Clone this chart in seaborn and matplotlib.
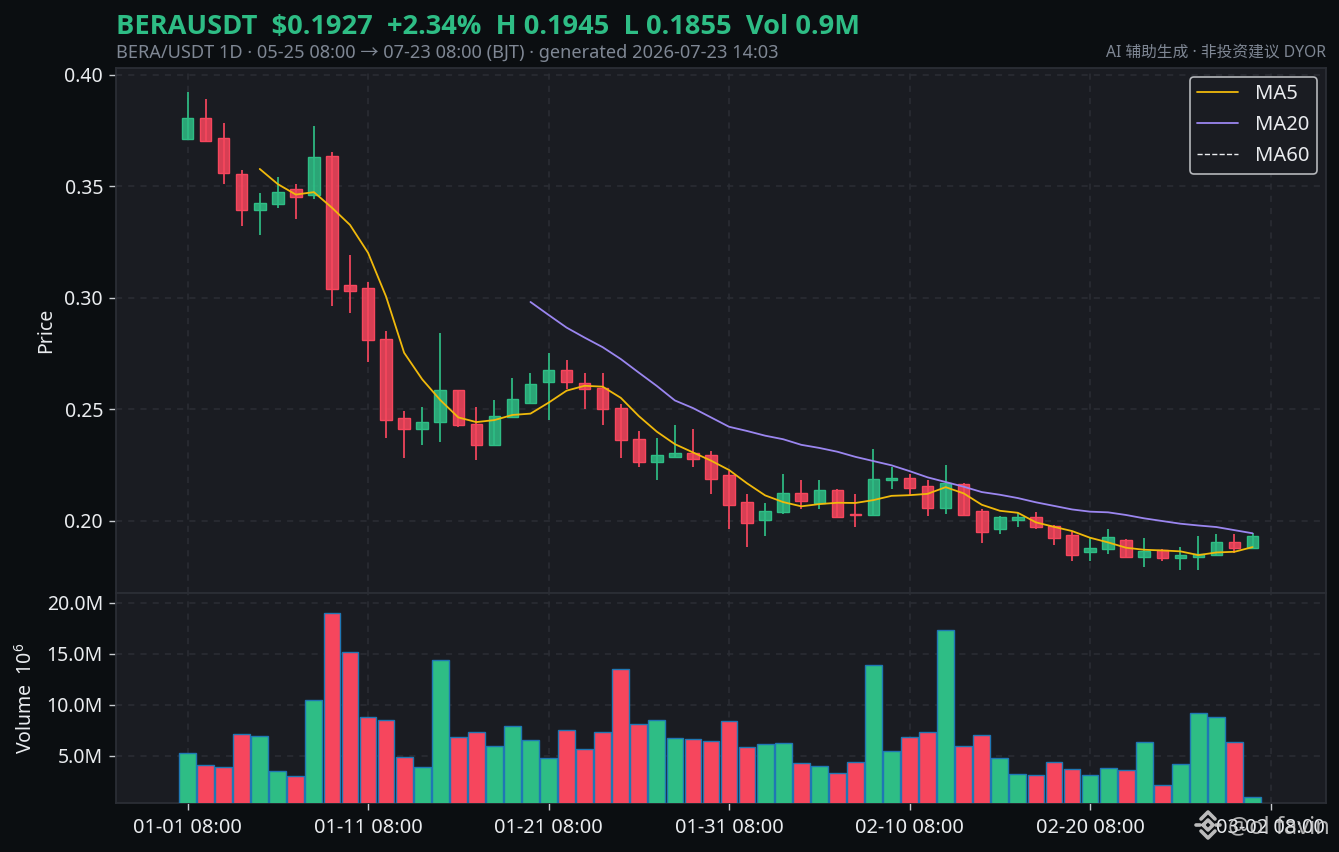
import matplotlib
matplotlib.use('Agg')
import matplotlib.pyplot as plt
from matplotlib.lines import Line2D
from matplotlib.ticker import FuncFormatter
import pandas as pd
import seaborn as sns

# candles
opens = [.3712, .3806, .3716, .3554, .3393, .3420, .3487, .3460, .3635, .3056,
         .3043, .2814, .2462, .2409, .2441, .2585, .2433, .2338, .2466, .2529,
         .2621, .2674, .2616, .2594, .2504, .2365, .2261, .2286, .2302, .2293,
         .2203, .2082, .2001, .2037, .2122, .2077, .2136, .2029, .2026, .2181,
         .2192, .2154, .2057, .2163, .2041, .1960, .2001, .2014, .1974, .1934,
         .1857, .1871, .1911, .1837, .1866, .1830, .1837, .1846, .1902, .1878]
highs = [.3924, .3893, .3785, .3574, .3470, .3542, .3511, .3771, .3653, .3192,
         .3071, .2851, .2492, .2510, .2842, .2585, .2510, .2541, .2640, .2662,
         .2752, .2721, .2662, .2662, .2523, .2402, .2370, .2429, .2411, .2312,
         .2222, .2119, .2079, .2209, .2182, .2182, .2141, .2119, .2321, .2242,
         .2209, .2182, .2248, .2168, .2052, .2019, .2032, .2038, .1978, .1947,
         .1920, .1960, .1917, .1920, .1871, .1880, .1929, .1938, .1938, .1943]
lows = [.3712, .3703, .3511, .3324, .3282, .3404, .3355, .3445, .2964, .2933,
        .2713, .2372, .2281, .2340, .2354, .2421, .2272, .2338, .2462, .2523,
        .2451, .2590, .2501, .2429, .2281, .2242, .2182, .2282, .2242, .2120,
        .1963, .1882, .1932, .2031, .2053, .2053, .2013, .1972, .2022, .2141,
        .2114, .2020, .2031, .2022, .1899, .1941, .1971, .1963, .1890, .1820,
        .1820, .1850, .1835, .1791, .1820, .1778, .1778, .1841, .1855, .1878]
closes = [.3806, .3703, .3559, .3393, .3424, .3474, .3451, .3633, .3038, .3029,
          .2809, .2450, .2409, .2444, .2585, .2427, .2338, .2471, .2544, .2614,
          .2674, .2621, .2589, .2499, .2360, .2261, .2293, .2302, .2277, .2188,
          .2068, .1987, .2041, .2122, .2089, .2136, .2017, .2027, .2185, .2192,
          .2147, .2057, .2170, .2026, .1947, .2014, .2014, .1969, .1920, .1846,
          .1875, .1925, .1837, .1862, .1830, .1844, .1850, .1902, .1878, .1929]
volumes = [5.3, 4.1, 3.9, 7.2, 7.0, 3.5, 3.0, 10.5, 19.0, 15.2,
           8.8, 8.5, 4.9, 3.9, 14.4, 6.9, 7.4, 6.0, 7.9, 6.6,
           4.8, 7.5, 5.7, 7.4, 13.5, 8.1, 8.5, 6.8, 6.7, 6.5,
           8.4, 5.9, 6.2, 6.3, 4.3, 4.0, 3.3, 4.4, 13.9, 5.5,
           6.9, 7.4, 17.4, 6.0, 7.1, 4.8, 3.2, 3.1, 4.4, 3.7,
           3.1, 3.8, 3.6, 6.4, 2.2, 4.2, 9.2, 8.8, 6.4, 1.0]

# moving averages as drawn, MA5 starts at candle 4, MA20 at candle 19
ma5 = [.3578, .3510, .3463, .3474, .3404, .3327, .3202, .3005, .2753, .2634,
       .2541, .2463, .2442, .2451, .2474, .2480, .2529, .2583, .2605, .2601,
       .2551, .2469, .2399, .2343, .2306, .2269, .2227, .2167, .2113, .2083,
       .2064, .2074, .2080, .2079, .2092, .2111, .2114, .2120, .2150, .2122,
       .2071, .2044, .2035, .1992, .1972, .1953, .1923, .1902, .1878, .1869,
       .1866, .1862, .1845, .1857, .1860, .1881]
ma20 = [.2981, .2923, .2866, .2821, .2778, .2725, .2664, .2604, .2539, .2505,
        .2463, .2421, .2402, .2381, .2365, .2340, .2326, .2309, .2286, .2267,
        .2248, .2222, .2194, .2173, .2152, .2128, .2116, .2101, .2082, .2066,
        .2050, .2040, .2037, .2025, .2010, .1998, .1986, .1978, .1971, .1957,
        .1943]
ma60 = []

tick_days = [0, 10, 20, 30, 40, 50, 60]
tick_labels = ['01-01 08:00', '01-11 08:00', '01-21 08:00', '01-31 08:00',
               '02-10 08:00', '02-20 08:00', '03-02 08:00']

UP = '#2EBD85'
DOWN = '#F6465D'
BG = '#0B0E11'
PANEL = '#1A1C22'
GRID = '#2B2E35'
TEXT = '#EAECEF'
MUTED = '#7F8794'

sns.set_theme(style='dark', rc={
    'figure.facecolor': BG, 'axes.facecolor': PANEL, 'savefig.facecolor': BG,
    'axes.edgecolor': GRID, 'axes.linewidth': 1.2,
    'xtick.color': TEXT, 'ytick.color': TEXT, 'text.color': TEXT,
    'axes.labelcolor': TEXT,
    'xtick.bottom': True, 'ytick.left': True,
})
plt.rcParams['font.family'] = ['Noto Sans', 'Noto Sans CJK SC', 'DejaVu Sans']
plt.rcParams['axes.unicode_minus'] = False

W, H = 1339, 852
df = pd.DataFrame({'day': range(60), 'open': opens, 'high': highs, 'low': lows,
                   'close': closes, 'volume': volumes})
df['side'] = ['up' if c >= o else 'down' for o, c in zip(opens, closes)]
palette = {'up': UP, 'down': DOWN}
colors = df['side'].map(palette)

fig = plt.figure(figsize=(W / 100, H / 100), dpi=100)
ax = fig.add_axes([115.5 / W, 1 - 593 / H, (1326 - 115.5) / W, (593 - 68) / H])
ax_vol = fig.add_axes([115.5 / W, 1 - 803 / H, (1326 - 115.5) / W, (803 - 593) / H])

# price panel
ax.vlines(df['day'], df['low'], df['high'], colors=colors, linewidth=1.25, zorder=2)
bottoms = df[['open', 'close']].min(axis=1)
heights = (df['close'] - df['open']).abs()
for side, c in palette.items():
    m = df['side'] == side
    ax.bar(df['day'][m], heights[m], bottom=bottoms[m], width=0.64,
           facecolor=matplotlib.colors.to_rgba(c, 0.86), edgecolor=c, linewidth=1.0, zorder=3)

sns.lineplot(x=list(range(4, 60)), y=ma5, ax=ax, color='#F0B90B', linewidth=1.3, label='MA5', zorder=4)
sns.lineplot(x=list(range(19, 60)), y=ma20, ax=ax, color='#9B86F0', linewidth=1.3, label='MA20', zorder=4)
ax.plot(ma60, ma60, color=TEXT, linewidth=1.0, linestyle='--', label='MA60')

ax.set_xlim(-3.99, 63.07)
ax.set_ylim(0.1675, 0.4031)
ax.set_yticks([0.20, 0.25, 0.30, 0.35, 0.40])
ax.yaxis.set_major_formatter(FuncFormatter(lambda v, _: f'{v:.2f}'))
ax.set_xticks(tick_days)
ax.tick_params(axis='x', bottom=False, labelbottom=False)
ax.tick_params(axis='y', length=5, width=1, labelsize=14, color='#C8CBD0', pad=4)
ax.set_ylabel('Price', fontsize=14, labelpad=6)
ax.set_xlabel('')

leg = ax.legend(loc='upper right', fontsize=14.5, frameon=True, facecolor=PANEL,
                edgecolor='#B5B7BB', framealpha=1, fancybox=True,
                handlelength=2.0, handletextpad=0.85, labelspacing=0.55,
                borderpad=0.38, bbox_to_anchor=(0.9925, 0.9835), borderaxespad=0)
leg.get_frame().set_linewidth(1.2)

# volume panel
sns.barplot(data=df, x='day', y='volume', hue='side', palette=palette, ax=ax_vol,
            native_scale=True, dodge=False, width=0.93, errorbar=None, legend=False,
            edgecolor='#1F77B4', linewidth=1.0, zorder=3, saturation=1)
ax_vol.set_xlim(-3.99, 63.07)
ax_vol.set_ylim(0.39, 20.98)
ax_vol.set_yticks([5, 10, 15, 20])
ax_vol.yaxis.set_major_formatter(FuncFormatter(lambda v, _: f'{v:.1f}M'))
ax_vol.set_xticks(tick_days)
ax_vol.set_xticklabels(tick_labels)
ax_vol.tick_params(axis='x', length=5, width=1, labelsize=14.4, color='#C8CBD0', pad=6)
ax_vol.tick_params(axis='y', length=5, width=1, labelsize=14, color='#C8CBD0', pad=4)
ax_vol.set_ylabel(r'Volume  $\mathregular{10^{6}}$', fontsize=14, labelpad=7)
ax_vol.set_xlabel('')

for a in (ax, ax_vol):
    a.set_axisbelow(True)
    a.grid(True, color=GRID, linestyle='--', linewidth=1.1, dashes=(4, 4))
    for s in a.spines.values():
        s.set_color(GRID)
        s.set_linewidth(1.3)

# header text
fig.text(116 / W, 1 - 34 / H, 'BERAUSDT  \\$0.1927  +2.34%  H 0.1945  L 0.1855  Vol 0.9M',
         color=UP, fontsize=19.6, fontweight='bold', family=['Open Sans', 'DejaVu Sans'],
         ha='left', va='baseline')
fig.text(116 / W, 1 - 58 / H, 'BERA/USDT 1D · 05-25 08:00 → 07-23 08:00 (BJT) · generated 2026-07-23 14:03',
         color=MUTED, fontsize=13.1, ha='left', va='baseline')
fig.text(1326 / W, 1 - 57 / H, 'AI 辅助生成 · 非投资建议 DYOR', color=MUTED, fontsize=11.3,
         ha='right', va='baseline')

# watermark, logo drawn as strokes
wm = '#CFCFCF'
logo = [([1196, 1200], [825, 825]),
        ([1201, 1208, 1215], [819, 812, 819]),
        ([1201, 1208, 1215], [831, 838, 831]),
        ([1203, 1208, 1213, 1208, 1203], [825, 820, 825, 830, 825]),
        ([1216, 1220], [825, 825])]
for xs, ys in logo:
    fig.add_artist(Line2D([x / W for x in xs], [1 - y / H for y in ys], color=wm,
                          linewidth=2.6, alpha=0.9, transform=fig.transFigure))
fig.text(1228 / W, 1 - 833 / H, '@ol favin', color=wm, fontsize=17, alpha=0.85,
         ha='left', va='baseline')

fig.savefig('out.png', dpi=100)
